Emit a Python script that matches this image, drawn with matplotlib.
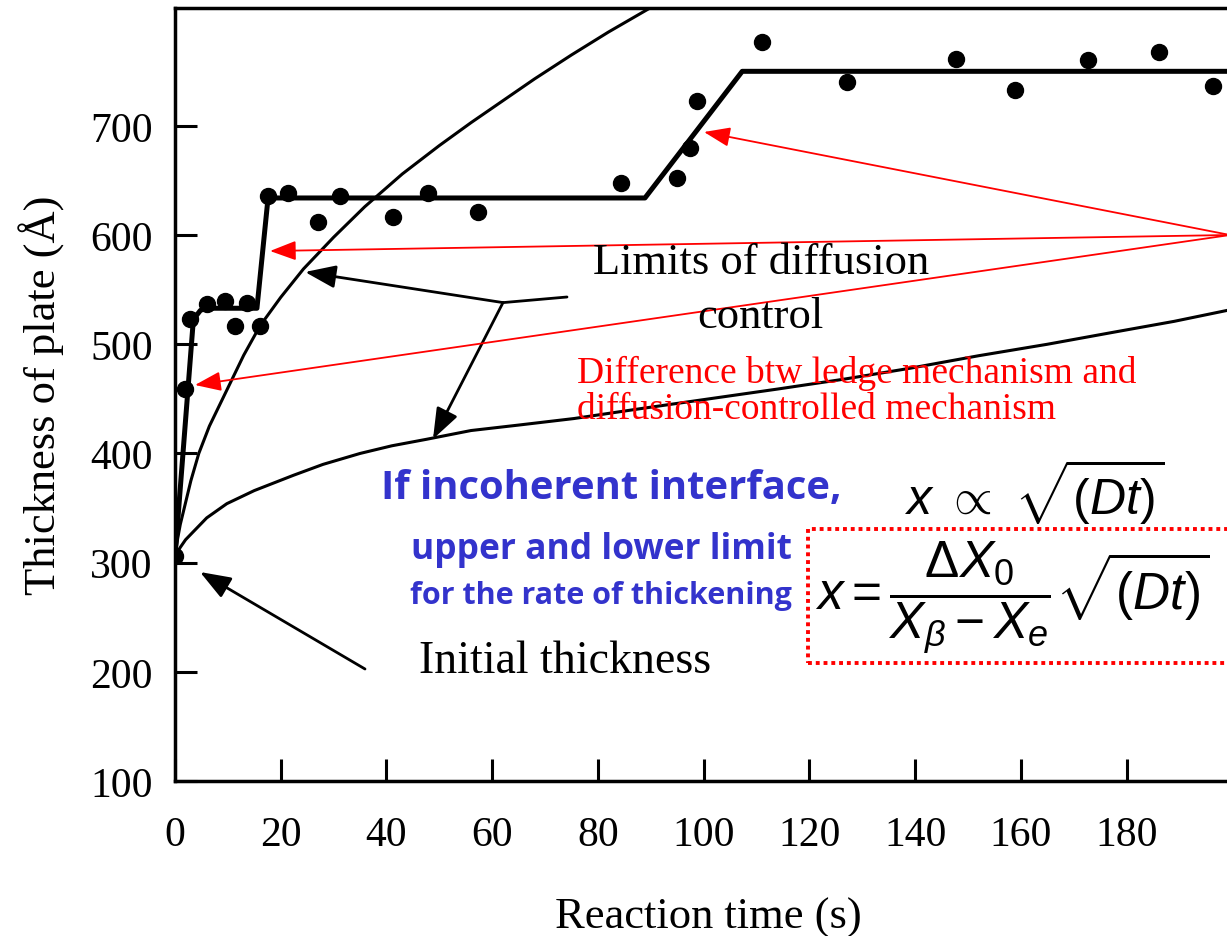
import matplotlib.pyplot as plt
from matplotlib.patches import Rectangle

plt.rcParams['font.family'] = ['Liberation Serif', 'DejaVu Serif']
plt.rcParams['mathtext.fontset'] = 'custom'
plt.rcParams['mathtext.rm'] = 'Liberation Sans'
plt.rcParams['mathtext.it'] = 'Liberation Sans:italic'
plt.rcParams['mathtext.bf'] = 'Liberation Sans:bold'

# measured plate thickness
time_pts = [0, 1.9, 2.8, 6.0, 9.5, 11.3, 13.6, 16.1, 17.5, 21.4, 27.1, 31.2, 41.3,
            47.9, 57.3, 84.4, 95.0, 97.5, 98.7, 111.0, 127.2, 147.8, 158.9, 172.8,
            186.1, 196.3]
thick_pts = [306, 459, 523, 537, 540, 517, 538, 517, 636, 639, 612, 636, 617,
             639, 621, 648, 652, 680, 723, 777, 740, 761, 733, 760, 768, 737]

# ledge mechanism (stepwise growth)
ledge_t = [0, 3.4, 4.0, 4.8, 5.8, 15.5, 17.6, 88.9, 107.3, 199]
ledge_x = [306, 518, 526, 531, 533, 533, 634, 634, 750, 750]

# upper limit of diffusion control
upper_t = [0, 0.5, 1.0, 2.0, 3.0, 4.5, 6.5, 9.8, 13, 16.1, 20, 24.3, 30, 35.9,
           43, 50, 56, 62, 68, 75, 82, 89.5]
upper_x = [306, 322, 335, 355, 375, 400, 425, 458, 490, 517, 543, 569, 598, 626,
           656, 682, 703, 723, 743, 765, 786, 807]

# lower limit of diffusion control
lower_t = [0, 0.5, 1, 2, 3.4, 6, 9.8, 15, 22.4, 28, 35, 41, 47.6, 56, 65, 75.5,
           88, 101, 114, 126.5, 139, 152, 165, 177.5, 189, 199]
lower_x = [306, 310, 314, 321, 328, 341, 354, 366, 380, 390, 400, 407, 413, 421,
           426, 432, 441, 450, 459, 468, 478, 489.5, 500, 511, 521, 531]

x_ticks = [0, 20, 40, 60, 80, 100, 120, 140, 160, 180]
y_ticks = [100, 200, 300, 400, 500, 600, 700]

W, H = 1227, 937
fig = plt.figure(figsize=(W / 100, H / 100), dpi=100)
ax = fig.add_axes([175 / W, 1 - 782 / H, (W - 175) / W, (782 - 9) / H])

ax.plot(upper_t, upper_x, color='black', lw=2.2, zorder=2)
ax.plot(lower_t, lower_x, color='black', lw=2.2, zorder=2)
ax.plot(ledge_t, ledge_x, color='black', lw=3.6, zorder=3, solid_joinstyle='round')
ax.plot(time_pts, thick_pts, 'o', color='black', ms=11.5, zorder=4)

ax.set_xlim(0, 199)
ax.set_ylim(100, 808)
ax.set_xticks(x_ticks)
ax.set_yticks(y_ticks)
ax.tick_params(direction='in', length=16, width=2.2, labelsize=30)
ax.tick_params(axis='x', pad=25)
ax.tick_params(axis='y', pad=16)
for s in ['left', 'bottom', 'top']:
    ax.spines[s].set_linewidth(2.5)
ax.spines['right'].set_visible(False)

ax.set_xlabel('Reaction time (s)', fontsize=32)
ax.xaxis.set_label_coords(0.5067, -0.149)
ax.set_ylabel('Thickness of plate (Å)', fontsize=32)
ax.yaxis.set_label_coords(-0.105, 0.5)


def fp(x, y):
    return (x, H - y)


def ftext(x, y, s, **kw):
    fig.text(x / W, 1 - y / H, s, **kw)


def arrow(tail, tip, color, lw, scale, hl, hw):
    ax.annotate('', xy=fp(*tip), xycoords='figure pixels',
                xytext=fp(*tail), textcoords='figure pixels',
                arrowprops=dict(arrowstyle=f'-|>,head_length={hl},head_width={hw}',
                                color=color, lw=lw, mutation_scale=scale,
                                shrinkA=0, shrinkB=0), zorder=5)


# black annotation arrows
ax.annotate('', xy=fp(503, 303.6), xycoords='figure pixels',
            xytext=fp(567, 298), textcoords='figure pixels',
            arrowprops=dict(arrowstyle='-', color='black', lw=2, shrinkA=0, shrinkB=0))
arrow((503, 303.6), (305, 273), 'black', 2, 25, 0.75, 0.28)
arrow((503, 303.6), (433, 440), 'black', 2, 25, 0.75, 0.28)
arrow((365, 670), (200, 573), 'black', 2, 25, 0.75, 0.28)

# red arrows
for tip in [(704, 133), (270, 252), (195, 386)]:
    arrow((1230, 236), tip, 'red', 1.3, 10, 1.6, 0.6)

ftext(761, 263, 'Limits of diffusion', fontsize=32, ha='center', va='center')
ftext(760, 317, 'control', fontsize=32, ha='center', va='center')
ftext(565, 662, 'Initial thickness', fontsize=33, ha='center', va='center')

ftext(577, 373, 'Difference btw ledge mechanism and', fontsize=27, color='red',
      ha='left', va='center')
ftext(577, 410, 'diffusion-controlled mechanism', fontsize=27, color='red',
      ha='left', va='center')

blue = '#3333CC'
ftext(381, 489, 'If incoherent interface,', fontsize=28.8, color=blue,
      family='Open Sans', weight='bold', ha='left', va='center')
ftext(792, 550, 'upper and lower limit', fontsize=25.5, color=blue,
      family='Open Sans', weight='bold', ha='right', va='center')
ftext(792, 596, 'for the rate of thickening', fontsize=22, color=blue,
      family='Open Sans', weight='bold', ha='right', va='center')

ftext(1034, 492, r'$x\ \propto\ \sqrt{(Dt)}$', fontsize=36, ha='center', va='center')
ftext(1012, 597, r'$x = \dfrac{\Delta X_0}{X_\beta - X_e}\sqrt{(Dt)}$', fontsize=37,
      ha='center', va='center')

fig.patches.append(Rectangle((808 / W, 1 - 664 / H), 500 / W, 134 / H,
                             transform=fig.transFigure, fill=False, edgecolor='red',
                             lw=2.8, linestyle=(0, (1, 1))))

fig.savefig('out.png', dpi=100)
